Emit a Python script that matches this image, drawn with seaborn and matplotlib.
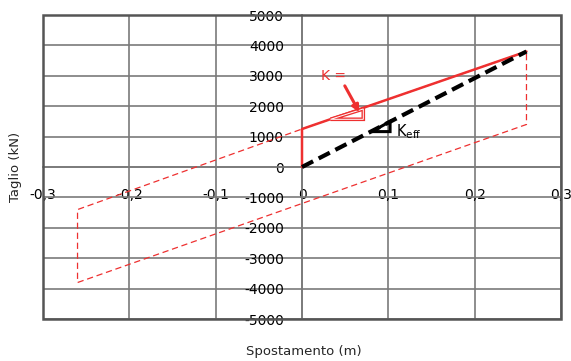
import numpy as np
import pandas as pd
import matplotlib
matplotlib.use("Agg")
import matplotlib.pyplot as plt
import seaborn as sns
from matplotlib.patches import Rectangle, Polygon

# ---- data ----
loop_x = [0.0, 0.26, 0.26, -0.26, -0.26, 0.0]
loop_y = [1250, 3800, 1400, -3800, -1400, 1250]
bilinear_x = [0.0, 0.0, 0.26]
bilinear_y = [0, 1250, 3800]
keff_x = [0.0, 0.26]
keff_y = [0, 3800]
x_ticks = [-0.3, -0.2, -0.1, 0.0, 0.1, 0.2, 0.3]
x_tick_labels = ["-0,3", "-0,2", "-0,1", "0", "0,1", "0,2", "0,3"]
y_ticks = [-5000, -4000, -3000, -2000, -1000, 0, 1000, 2000, 3000, 4000, 5000]
y_tick_labels = [str(v) for v in y_ticks]
k_tri_x = [0.033, 0.071, 0.071]
k_tri_y = [1570, 1570, 1910]
keff_tri_x = [0.081, 0.102, 0.102]
keff_tri_y = [1165, 1165, 1500]

sns.set_theme(style="white")
plt.rcParams['font.family'] = ['DejaVu Sans']

fig = plt.figure(figsize=(5.71, 3.61), dpi=100)
ax = fig.add_axes([0.0753, 0.1163, 0.9072, 0.8421])

red = "#ee3030"
df_loop = pd.DataFrame({"x": loop_x, "y": loop_y})
df_bil = pd.DataFrame({"x": bilinear_x, "y": bilinear_y})
df_keff = pd.DataFrame({"x": keff_x, "y": keff_y})

sns.lineplot(data=df_loop, x="x", y="y", sort=False, estimator=None, ax=ax,
             color=red, lw=0.9, linestyle=(0, (5, 3)), zorder=3)
sns.lineplot(data=df_bil, x="x", y="y", sort=False, estimator=None, ax=ax,
             color=red, lw=1.8, zorder=4)
sns.lineplot(data=df_keff, x="x", y="y", sort=False, estimator=None, ax=ax,
             color="black", lw=3, linestyle=(0, (3, 1.5)), zorder=5)

# stiffness triangles
ax.add_patch(Polygon(list(zip(k_tri_x, k_tri_y)), closed=True, fill=False,
                     ec=red, lw=2.6, zorder=4))
ax.add_patch(Polygon(list(zip(k_tri_x, k_tri_y)), closed=True, fill=False,
                     ec="white", lw=0.7, zorder=4))
ax.add_patch(Polygon(list(zip(keff_tri_x, keff_tri_y)), closed=True, fill=False,
                     ec="black", lw=2.2, zorder=5))

ax.annotate("", xy=(0.068, 1720), xytext=(0.048, 2750),
            arrowprops=dict(arrowstyle="-|>", color=red, lw=2.2,
                            mutation_scale=10), zorder=6)
ax.text(0.022, 3000, "K =", color=red, fontsize=10, va="center", ha="left")
ax.text(0.109, 1150, r"K$_{\mathregular{eff}}$", color="black", fontsize=10.5,
        va="center", ha="left")

ax.set_xlim(-0.3, 0.3)
ax.set_ylim(-5000, 5000)
ax.set_xticks(x_ticks)
ax.set_xticklabels(x_tick_labels)
ax.set_yticks(y_ticks)
ax.set_yticklabels(y_tick_labels)

grid_c = "#7a7a7a"
ax.grid(True, color=grid_c, lw=1.2)
ax.set_axisbelow(True)
for s in ["top", "right"]:
    ax.spines[s].set_visible(False)
ax.spines["left"].set_position(("data", 0))
ax.spines["bottom"].set_position(("data", 0))
ax.spines["left"].set_color(grid_c)
ax.spines["bottom"].set_color(grid_c)
ax.spines["left"].set_linewidth(1.2)
ax.spines["bottom"].set_linewidth(1.2)
ax.tick_params(axis="both", length=0, labelsize=10, colors="black")
ax.tick_params(axis="x", pad=15)
ax.tick_params(axis="y", pad=13)

ax.add_patch(Rectangle((0, 0), 1, 1, transform=ax.transAxes, fill=False,
                       ec="#555555", lw=1.8, clip_on=False, zorder=10))

ax.set_xlabel("")
ax.set_ylabel("")
fig.text(0.532, 0.027, "Spostamento (m)", ha="center", va="center", fontsize=9.5)
fig.text(0.028, 0.537, "Taglio (kN)", ha="center", va="center", rotation=90, fontsize=9.5)

fig.savefig("out.png", dpi=100)
